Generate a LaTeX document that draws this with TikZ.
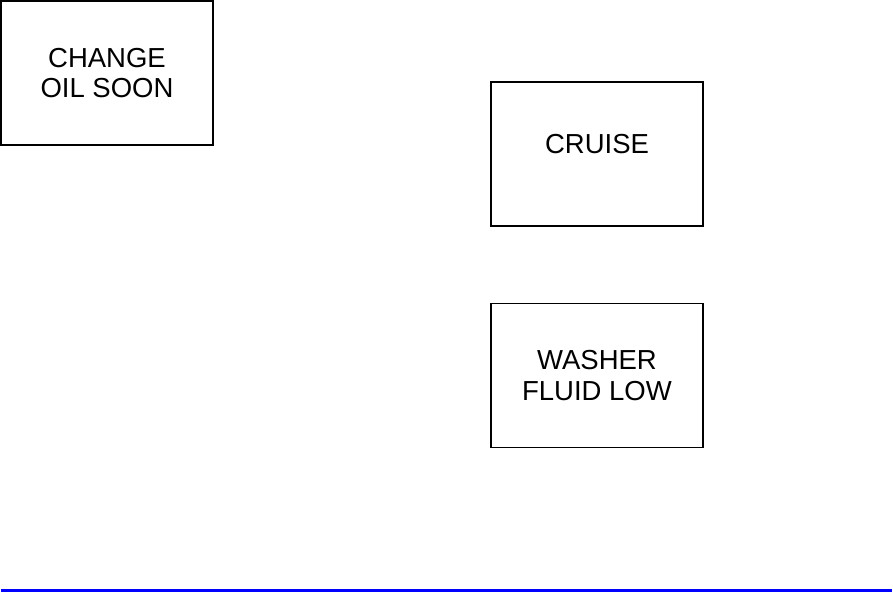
\documentclass[tikz,border=0pt]{standalone}
\usepackage{fontspec}
\setmainfont{Liberation Sans}
\usetikzlibrary{positioning}
\definecolor{RuleBlue}{rgb}{0, 0, 1}

\begin{document}
\begin{tikzpicture}[
    x=1pt, y=-1pt,
    font=\fontsize{27.5}{30.5}\selectfont,
    panel/.style={draw=black, line width=1.3pt, minimum width=212pt,
        minimum height=144pt, inner sep=0pt, align=center},
]
\useasboundingbox (0,0) rectangle (893,592);

\node[panel] (oil) at (107,73) {CHANGE\\OIL SOON};
\node[panel, label={[yshift=10pt]center:CRUISE}] (cruise) at (597,154) {};
\node[panel, below=76pt of cruise] (washer) {WASHER\\FLUID LOW};

% rule at the foot of the page
\coordinate (ruleL) at (1,590.5);
\coordinate (ruleR) at (892,590.5);
\draw[RuleBlue, line width=3.5pt] (ruleL) -- (ruleR);

\end{tikzpicture}
\end{document}
